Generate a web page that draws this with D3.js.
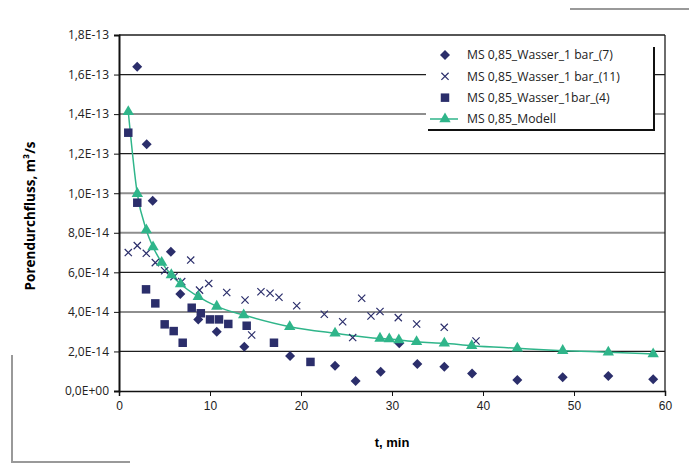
<!DOCTYPE html>
<html>
<head>
<meta charset="utf-8">
<script src="https://cdn.jsdelivr.net/npm/d3@7"></script>
<style>
  body { margin: 0; background: #fff; }
  svg { display: block; }
  .ytick text { font-family: "Open Sans", sans-serif; font-size: 12px; fill: #222; }
  .xtick text { font-family: "Liberation Sans", Arial, sans-serif; font-size: 12px; fill: #222; }
  .legend text { font-family: "Open Sans", sans-serif; font-size: 12.2px; fill: #222; }
</style>
</head>
<body>
<div id="chart"></div>
<script>
// values, flux in units of 1E-14 m³/s
var t_diamond = [2, 3.04, 3.7, 5.7, 6.74, 8.71, 10.74, 13.77, 18.8, 23.74, 26.0, 28.76, 30.8, 32.78, 35.75, 38.8, 43.77, 48.76, 53.77, 58.7];
var v_diamond = [16.4, 12.47, 9.62, 7.04, 4.9, 3.62, 3.0, 2.24, 1.77, 1.28, 0.5, 0.97, 2.41, 1.37, 1.23, 0.89, 0.56, 0.69, 0.76, 0.59];

var t_cross = [1.02, 2.01, 3.0, 3.99, 5.02, 6.04, 6.89, 7.88, 8.85, 9.86, 11.84, 13.85, 14.58, 15.6, 16.6, 17.58, 19.53, 22.56, 24.58, 25.68, 26.67, 27.69, 28.68, 30.69, 32.71, 35.74, 39.23];
var v_cross = [7.0, 7.35, 6.96, 6.49, 6.08, 5.78, 5.53, 6.62, 5.1, 5.44, 4.98, 4.6, 2.83, 5.02, 4.94, 4.74, 4.31, 3.88, 3.5, 2.7, 4.69, 3.79, 4.02, 3.71, 3.39, 3.22, 2.53];

var t_square = [1.02, 2.01, 2.97, 3.99, 5.02, 6.01, 7.0, 7.99, 8.99, 10.0, 10.99, 12.01, 14.03, 17.03, 21.04];
var v_square = [13.06, 9.52, 5.14, 4.43, 3.37, 3.03, 2.44, 4.21, 3.93, 3.62, 3.62, 3.39, 3.3, 2.44, 1.47];

var t_model = [1.02, 2.01, 3.0, 3.74, 4.69, 5.75, 6.76, 8.71, 10.74, 13.7, 18.76, 23.74, 28.68, 29.7, 30.75, 32.7, 35.75, 38.76, 43.77, 48.76, 53.77, 58.7];
var v_model = [14.12, 9.98, 8.14, 7.28, 6.5, 5.87, 5.41, 4.77, 4.28, 3.84, 3.25, 2.92, 2.66, 2.63, 2.58, 2.49, 2.41, 2.29, 2.16, 2.04, 1.96, 1.87];

var series_names = ["MS 0,85_Wasser_1 bar_(7)", "MS 0,85_Wasser_1 bar_(11)", "MS 0,85_Wasser_1bar_(4)", "MS 0,85_Modell"];

var y_ticks = [0, 2e-14, 4e-14, 6e-14, 8e-14, 1e-13, 1.2e-13, 1.4e-13, 1.6e-13, 1.8e-13];
var y_tick_labels = ["0,0E+00", "2,0E-14", "4,0E-14", "6,0E-14", "8,0E-14", "1,0E-13", "1,2E-13", "1,4E-13", "1,6E-13", "1,8E-13"];
var x_ticks = [0, 10, 20, 30, 40, 50, 60];

var width = 689, height = 465;
var navy = "#2b2e6b", green = "#2fb58a";

var svg = d3.select("#chart").append("svg")
    .attr("width", width)
    .attr("height", height);

var x = d3.scaleLinear().domain([0, 60]).range([119, 665]);
var y = d3.scaleLinear().domain([0, 1.8e-13]).range([391, 35]);

function pts(ts, vs){
    return ts.map(function(t, i){ return {t: t, v: vs[i] * 1e-14}; });
}

// gridlines, black and grey as in the scan
var grey_lines = [1.4e-13, 1e-13, 8e-14, 4e-14];
function isGrey(d){ return grey_lines.some(function(g){ return Math.abs(g - d) < 1e-16; }); }
svg.append("g").selectAll("line")
    .data(y_ticks.filter(function(d){ return d > 0; }))
    .enter().append("line")
    .attr("x1", x(0)).attr("x2", x(60))
    .attr("y1", function(d){ return y(d); })
    .attr("y2", function(d){ return y(d); })
    .attr("stroke", function(d){ return isGrey(d) ? "#8e8e8e" : "#1e1e1e"; })
    .attr("stroke-width", function(d){ return isGrey(d) ? 2 : 1.3; });

// right border
svg.append("line")
    .attr("x1", x(60)).attr("x2", x(60))
    .attr("y1", y(1.8e-13)).attr("y2", y(0))
    .attr("stroke", "#1e1e1e").attr("stroke-width", 1.3);

// y axis
var y_axis = d3.axisLeft(y)
    .tickValues(y_ticks)
    .tickSize(5)
    .tickFormat(function(d, i){ return y_tick_labels[i]; });
var gy = svg.append("g")
    .attr("class", "ytick")
    .attr("transform", "translate(" + x(0) + ",0)")
    .call(y_axis);
gy.select(".domain").attr("stroke", "#111").attr("stroke-width", 2);
gy.selectAll(".tick line").attr("stroke", "#111");
gy.selectAll(".tick text").attr("x", -10);

// x axis
var x_axis = d3.axisBottom(x)
    .tickValues(x_ticks)
    .tickSize(5)
    .tickFormat(d3.format("d"));
var gx = svg.append("g")
    .attr("class", "xtick")
    .attr("transform", "translate(0," + y(0) + ")")
    .call(x_axis);
gx.select(".domain").attr("stroke", "#111").attr("stroke-width", 1.5);
gx.selectAll(".tick line").attr("stroke", "#111");
gx.selectAll(".tick text").attr("y", 10);

// axis titles
svg.append("text")
    .attr("x", 392).attr("y", 447)
    .attr("text-anchor", "middle")
    .style("font-family", "'Liberation Sans', Arial, sans-serif")
    .style("font-size", "13px").style("font-weight", "bold")
    .text("t, min");

svg.append("text")
    .attr("transform", "translate(35,216) rotate(-90)")
    .attr("text-anchor", "middle")
    .style("font-family", "'Open Sans', sans-serif")
    .style("font-size", "13.5px").style("font-weight", "bold")
    .text("Porendurchfluss, m³/s");

// marker shapes
var diamond = "M0,-5L5,0L0,5L-5,0Z";
var square = d3.symbol().type(d3.symbolSquare).size(72)();
var triangle = d3.symbol().type(d3.symbolTriangle).size(56)();
var cross = "M-3.6,-3.6L3.6,3.6M-3.6,3.6L3.6,-3.6";

// model line
var line = d3.line()
    .x(function(d){ return x(d.t); })
    .y(function(d){ return y(d.v); })
    .curve(d3.curveMonotoneX);

svg.append("path")
    .datum(pts(t_model, v_model))
    .attr("d", line)
    .attr("fill", "none")
    .attr("stroke", green)
    .attr("stroke-width", 1.5);

svg.append("g").selectAll("path")
    .data(pts(t_diamond, v_diamond))
    .enter().append("path")
    .attr("transform", function(d){ return "translate(" + x(d.t) + "," + y(d.v) + ")"; })
    .attr("d", diamond)
    .attr("fill", navy);

svg.append("g").selectAll("path")
    .data(pts(t_cross, v_cross))
    .enter().append("path")
    .attr("transform", function(d){ return "translate(" + x(d.t) + "," + y(d.v) + ")"; })
    .attr("d", cross)
    .attr("fill", "none")
    .attr("stroke", navy)
    .attr("stroke-width", 1.2);

svg.append("g").selectAll("path")
    .data(pts(t_square, v_square))
    .enter().append("path")
    .attr("transform", function(d){ return "translate(" + x(d.t) + "," + y(d.v) + ")"; })
    .attr("d", square)
    .attr("fill", navy);

svg.append("g").selectAll("path")
    .data(pts(t_model, v_model))
    .enter().append("path")
    .attr("transform", function(d){ return "translate(" + x(d.t) + "," + y(d.v) + ")"; })
    .attr("d", triangle)
    .attr("fill", green);

// legend
var lg = svg.append("g").attr("class", "legend");
lg.append("rect")
    .attr("x", 426).attr("y", 42)
    .attr("width", 228).attr("height", 88)
    .attr("fill", "#fff");
lg.append("line")
    .attr("x1", 428).attr("x2", 655).attr("y1", 130).attr("y2", 130)
    .attr("stroke", "#111").attr("stroke-width", 2);
lg.append("line")
    .attr("x1", 654).attr("x2", 654).attr("y1", 47).attr("y2", 131)
    .attr("stroke", "#111").attr("stroke-width", 2);

var row = d3.scaleLinear().domain([0, 3]).range([55, 119]);
var shapes = [diamond, cross, square, triangle];
series_names.forEach(function(name, i){
    var ry = row(i);
    if (i == 3) {
        lg.append("line")
            .attr("x1", 430).attr("x2", 458).attr("y1", ry).attr("y2", ry)
            .attr("stroke", green).attr("stroke-width", 1.5);
    }
    var sym = lg.append("path")
        .attr("transform", "translate(445," + ry + ")")
        .attr("d", shapes[i]);
    if (i == 1) sym.attr("fill", "none").attr("stroke", navy).attr("stroke-width", 1.2);
    else sym.attr("fill", i == 3 ? green : navy);
    lg.append("text")
        .attr("x", 467).attr("y", ry)
        .attr("dy", "0.35em")
        .text(name);
});

// frame remnants from the scanned page
var frame = svg.append("g").attr("stroke", "#999").attr("stroke-width", 2).attr("fill", "none");
frame.append("line").attr("x1", 570).attr("x2", 689).attr("y1", 9).attr("y2", 9);
frame.append("path").attr("d", "M12,355V462H130");
</script>
</body>
</html>
